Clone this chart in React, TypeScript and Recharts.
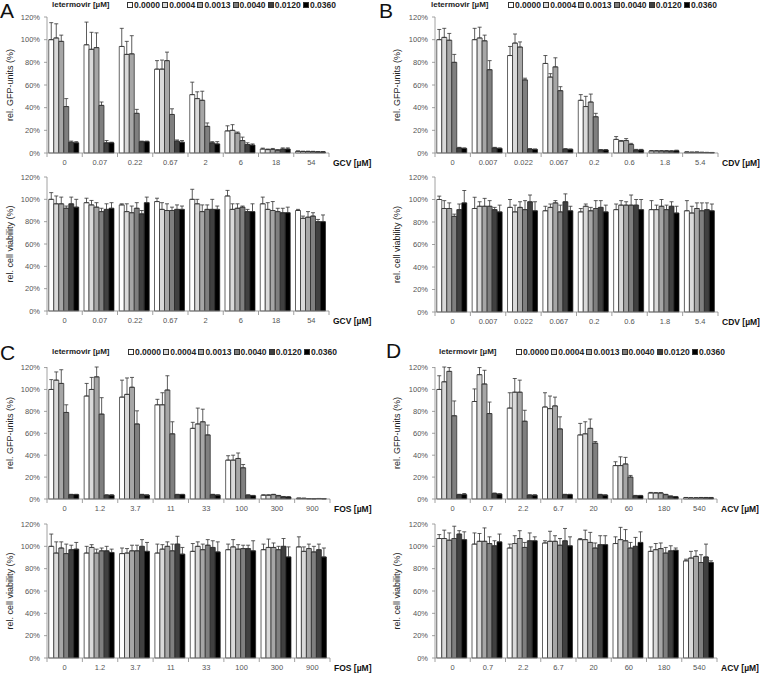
import { BarChart, Bar, XAxis, YAxis, ErrorBar } from "recharts";

const FONT = '"Liberation Sans", Arial, sans-serif';

// letermovir concentrations (µM) = the six series of every panel
const seriesNames = ["0.0000", "0.0004", "0.0013", "0.0040", "0.0120", "0.0360"];
const seriesColors = ["#ffffff", "#d9d9d9", "#a6a6a6", "#7f7f7f", "#404040", "#000000"];
const yTicks = [0, 20, 40, 60, 80, 100, 120];

// A - ganciclovir
const gcvDoses = ["0", "0.07", "0.22", "0.67", "2", "6", "18", "54"];
const gcvGfpMean = [
    [100, 101.5, 98.5, 41, 9.5, 9],
    [95.5, 91.5, 93, 42, 9, 9],
    [94, 87, 87.5, 35, 10, 10],
    [74, 74, 81.5, 34, 10.5, 9.5],
    [51.5, 48, 46.5, 23.5, 9, 8],
    [19.5, 20, 17.5, 11, 7.5, 7],
    [3.5, 3, 3.2, 2.5, 3.5, 3.5],
    [1.5, 1.3, 1.3, 1.2, 1, 1],
];
const gcvGfpErr = [
    [15, 12.5, 5.5, 7, 1, 1],
    [20, 15, 13, 3, 2, 0.5],
    [16, 11.5, 16, 3.5, 0.5, 0.5],
    [7.5, 8, 7.5, 5, 1, 1.5],
    [11, 6, 8, 3, 1, 2],
    [4.5, 5, 1, 3, 1.5, 1],
    [0.8, 0.5, 0.8, 0.5, 1, 1],
    [0.3, 0.3, 0.3, 0.3, 0.3, 0.3],
];
const gcvViaMean = [
    [100, 96, 96, 92, 96, 93],
    [97, 95, 93, 89, 91, 92],
    [95, 89, 88, 92, 87, 97],
    [98, 91, 90, 90, 91, 91],
    [100, 96, 89, 91, 91, 91],
    [103, 91, 92, 93, 89, 89],
    [96, 91, 90, 89, 88, 88],
    [90, 83, 84, 85, 80, 80],
];
const gcvViaErr = [
    [6, 7, 6, 2, 6, 7],
    [4, 4, 4, 3, 5, 5],
    [1, 7, 6, 5, 3, 5],
    [3, 6, 6, 3, 4, 3],
    [9, 4, 6, 4, 9, 3],
    [5, 5, 4, 1, 2, 7],
    [6, 6, 8, 3, 4, 5],
    [1, 2, 5, 3, 2, 6],
];

// B - cidofovir
const cdvDoses = ["0", "0.007", "0.022", "0.067", "0.2", "0.6", "1.8", "5.4"];
const cdvGfpMean = [
    [100, 102, 99.5, 80, 4.5, 4],
    [100, 101.5, 99, 73.5, 4.5, 4],
    [86, 97, 93.5, 64.5, 3.5, 3.2],
    [79, 67, 76, 55, 3.5, 3.2],
    [46.5, 41, 45, 32, 2.7, 2.7],
    [12, 10.5, 11, 7.5, 2.7, 2.7],
    [1.8, 1.8, 1.8, 1.8, 1.7, 2],
    [0.8, 0.6, 0.7, 0.5, 0.4, 0.3],
];
const cdvGfpErr = [
    [9, 8, 6, 7, 0.5, 0.5],
    [10, 9.5, 5, 8, 0.5, 0.5],
    [8, 8, 4.5, 1.5, 0.3, 0.3],
    [7, 3, 8, 3.5, 0.3, 0.3],
    [5, 9, 7, 3, 0.3, 0.3],
    [2.5, 0.5, 1.7, 1, 0.5, 0.5],
    [0.3, 0.3, 0.3, 0.3, 0.3, 0.5],
    [0.2, 0.2, 0.2, 0.2, 0.2, 0.2],
];
const cdvViaMean = [
    [100, 92, 92, 85, 91, 97],
    [92, 94, 94, 94, 91, 89],
    [93, 89, 93, 91, 98, 90],
    [90, 93, 97, 89, 98, 90],
    [89, 94, 90, 92, 93, 89],
    [91, 95, 95, 95, 95, 91],
    [91, 91, 94, 91, 94, 88],
    [90, 88, 92, 90, 91, 90],
];
const cdvViaErr = [
    [3, 7, 5, 2, 5, 11],
    [10, 4, 7, 5, 2, 6],
    [7, 6, 5, 8, 6, 8],
    [4, 3, 2, 6, 7, 4],
    [3, 2, 3, 7, 6, 6],
    [5, 4, 3, 9, 5, 9],
    [8, 4, 6, 4, 4, 6],
    [9, 6, 5, 7, 6, 6],
];

// C - foscarnet
const fosDoses = ["0", "1.2", "3.7", "11", "33", "100", "300", "900"];
const fosGfpMean = [
    [100, 108.5, 105.5, 79, 4, 4],
    [94, 100, 111.5, 77.5, 3.5, 3.5],
    [93, 95.5, 102, 68.5, 4, 3.5],
    [86, 86, 99.5, 59.5, 4, 4],
    [64.5, 68.5, 70.5, 58.5, 4, 3.5],
    [35.5, 35.5, 37, 28.5, 3.5, 3],
    [3.5, 3.5, 4, 3, 2, 1.8],
    [0.7, 0.6, 0.3, 0.2, 0.4, 0.2],
];
const fosGfpErr = [
    [9, 7.5, 12.5, 7, 0.3, 0.3],
    [11.5, 11, 9, 15, 0.3, 0.3],
    [15.5, 15, 9, 12, 0.3, 0.3],
    [5, 11, 13, 11, 0.3, 0.3],
    [5.5, 14.5, 11.5, 9, 0.3, 0.3],
    [4, 4.5, 5, 3, 0.3, 0.3],
    [0.3, 0.3, 0.3, 0.3, 0.3, 0.3],
    [0.1, 0.1, 0.1, 0.1, 0.1, 0.1],
];
const fosViaMean = [
    [100, 94, 98.5, 93.5, 97, 97.5],
    [94, 99, 94, 96, 96, 94.5],
    [93.5, 94, 96, 96, 100, 95.5],
    [94, 97.5, 100, 96, 102, 93],
    [95.5, 100, 97, 101, 99, 95],
    [97, 99.5, 97.5, 98, 98, 96],
    [97, 99, 99, 97, 100, 90.5],
    [99.5, 95.5, 98, 95, 97, 90.5],
];
const fosViaErr = [
    [11, 10, 5.5, 8.5, 4, 6],
    [6, 2.5, 3.5, 2.5, 4, 3],
    [5, 4, 5, 5, 6, 8],
    [8, 4, 4, 6, 7, 6],
    [7, 4, 5, 5, 6, 9],
    [5, 6.5, 4, 3, 3, 9],
    [5, 7.5, 4, 3, 7, 9],
    [9, 4, 4, 5, 5, 8],
];

// D - aciclovir
const acvDoses = ["0", "0.7", "2.2", "6.7", "20", "60", "180", "540"];
const acvGfpMean = [
    [100, 107, 116.5, 76, 4, 4],
    [89, 113.5, 105, 78, 5, 4.5],
    [83, 97.5, 97.5, 71, 3.5, 3.5],
    [84, 82.5, 85, 64, 4, 4],
    [58.5, 59.5, 64.5, 51, 4, 3.5],
    [30.5, 30.5, 32, 20, 3, 3],
    [5.5, 5.5, 5.5, 4, 2.5, 2],
    [1.2, 1, 1, 1.2, 1.2, 1.2],
];
const acvGfpErr = [
    [12.5, 13.5, 3.5, 13.5, 0.3, 1],
    [11.5, 6.5, 12.5, 10.5, 0.5, 0.3],
    [14, 12.5, 11, 10, 0.3, 0.3],
    [13, 11.5, 8, 11, 0.3, 0.3],
    [10.5, 11, 8.5, 1.5, 0.3, 0.3],
    [3.5, 8, 6, 1.5, 0.3, 0.3],
    [0.5, 0.3, 0.3, 0.3, 0.3, 0.3],
    [0.2, 0.2, 0.2, 0.2, 0.2, 0.2],
];
const acvViaMean = [
    [107, 107, 105.5, 107, 111, 106],
    [102, 104.5, 104.5, 102.5, 100.5, 104],
    [98.5, 102.5, 107, 99, 105, 105],
    [103, 104.5, 104.5, 101, 105, 100.5],
    [106, 106, 103.5, 98.5, 101.5, 101.5],
    [102.5, 106, 105, 98.5, 100, 103.5],
    [95.5, 97, 98, 94, 96, 96.5],
    [87, 89.5, 91, 85.5, 90.5, 85.5],
];
const acvViaErr = [
    [3.5, 7.5, 6.5, 11, 3, 7],
    [10, 7, 12, 6, 4.5, 7],
    [3.5, 7, 7, 4.5, 7, 3.5],
    [2, 9, 5, 6, 11, 8],
    [1, 8.5, 9, 4.5, 8, 8],
    [6, 11, 10, 5, 8, 9.5],
    [4, 5.5, 5, 5, 4.5, 2],
    [1.5, 6, 5, 7, 11.5, 1.5],
];

// one row per dose, error bars only upwards ([down, up])
function buildRows(doses: string[], mean: number[][], err: number[][]) {
    return doses.map((dose, i) => {
        const row: any = { dose };
        seriesNames.forEach((_, s) => {
            row[`v${s}`] = mean[i][s];
            row[`e${s}`] = [0, err[i][s]];
        });
        return row;
    });
}

type ChartProps = {
    rows: any[];
    left: number;
    plotLeft: number;
    plotRight: number;
    plotTop: number;
    plotBottom: number;
    yLabel: string;
    yLabelX: number;
    xLabel: string;
};

function DoseChart({ rows, left, plotLeft, plotRight, plotTop, plotBottom, yLabel, yLabelX, xLabel }: ChartProps) {
    const width = 380;
    const top = plotTop - 17;
    const height = plotBottom - top + 20;
    const yAxisWidth = plotLeft - left;
    const band = (plotRight - plotLeft) / rows.length;

    // category label plus the Excel-style ticks between groups
    const renderTick = (props: any) => {
        const { x, y, payload, index } = props;
        return (
            <g>
                <line x1={x - band / 2} x2={x - band / 2} y1={y} y2={y + 4} stroke="#8a8a8a" strokeWidth={0.8} />
                {index === rows.length - 1 && (
                    <line x1={x + band / 2} x2={x + band / 2} y1={y} y2={y + 4} stroke="#8a8a8a" strokeWidth={0.8} />
                )}
                <text x={x} y={y + 12} textAnchor="middle" fontSize={7.5} fill="#555" fontFamily={FONT}>
                    {payload.value}
                </text>
            </g>
        );
    };

    return (
        <div style={{ position: "absolute", left, top, width, height }}>
            <BarChart
                width={width}
                height={height}
                data={rows}
                margin={{ top: 17, right: left + width - plotRight, bottom: 0, left: 0 }}
                barCategoryGap="5%"
                barGap={0}
            >
                <XAxis
                    dataKey="dose"
                    height={20}
                    interval={0}
                    tickLine={false}
                    tickSize={0}
                    tickMargin={0}
                    tick={renderTick}
                    axisLine={{ stroke: "#8a8a8a", strokeWidth: 0.8 }}
                    label={{
                        value: xLabel,
                        position: "right",
                        offset: 4,
                        style: { fontSize: 8.5, fontWeight: "bold", fill: "#111", fontFamily: FONT },
                    }}
                />
                <YAxis
                    width={yAxisWidth}
                    domain={[0, 120]}
                    ticks={yTicks}
                    tickFormatter={(v: number) => `${v}%`}
                    tickSize={3}
                    tickMargin={4}
                    tick={{ fontSize: 7.5, fill: "#555", fontFamily: FONT }}
                    axisLine={{ stroke: "#8a8a8a", strokeWidth: 0.8 }}
                    tickLine={{ stroke: "#8a8a8a", strokeWidth: 0.8 }}
                    label={{
                        value: yLabel,
                        angle: -90,
                        position: "insideLeft",
                        offset: yLabelX - left,
                        style: { textAnchor: "middle", fontSize: 9, fill: "#222", fontFamily: FONT },
                    }}
                />
                {seriesNames.map((name, s) => (
                    <Bar
                        key={name}
                        dataKey={`v${s}`}
                        name={name}
                        fill={seriesColors[s]}
                        stroke="#222"
                        strokeWidth={0.7}
                        isAnimationActive={false}
                    >
                        <ErrorBar dataKey={`e${s}`} width={2} stroke="#333" strokeWidth={0.8} direction="y" />
                    </Bar>
                ))}
            </BarChart>
        </div>
    );
}

function LegendRow({ x, itemsX, y }: { x: number; itemsX: number; y: number }) {
    return (
        <>
            <div style={{ position: "absolute", left: x, top: y - 5, fontSize: 8, lineHeight: "10px", fontWeight: "bold", color: "#222", whiteSpace: "nowrap" }}>
                letermovir [µM]
            </div>
            <div style={{ position: "absolute", left: itemsX, top: y - 5, display: "flex", fontSize: 8.5, lineHeight: "10px", fontWeight: "bold", color: "#222", whiteSpace: "nowrap" }}>
                {seriesNames.map((name, s) => (
                    <div key={name} style={{ width: 35.2, display: "flex", alignItems: "center" }}>
                        <span style={{ display: "inline-block", width: 4, height: 4, border: "0.8px solid #333", background: seriesColors[s], marginRight: 1 }} />
                        {name}
                    </div>
                ))}
            </div>
        </>
    );
}

type PanelProps = {
    letter: string;
    letterX: number;
    letterY: number;
    left: number;
    plotLeft: number;
    plotRight: number;
    gfpTop: number;
    gfpBottom: number;
    viaTop: number;
    viaBottom: number;
    yLabelX: number;
    legendX: number;
    legendItemsX: number;
    legendY: number;
    doses: string[];
    drug: string;
    gfpMean: number[][];
    gfpErr: number[][];
    viaMean: number[][];
    viaErr: number[][];
};

function Panel(p: PanelProps) {
    const xLabel = `${p.drug} [µM]`;
    return (
        <>
            <div style={{ position: "absolute", left: p.letterX, top: p.letterY, fontSize: 21, lineHeight: "21px", color: "#111" }}>
                {p.letter}
            </div>
            <LegendRow x={p.legendX} itemsX={p.legendItemsX} y={p.legendY} />
            <DoseChart
                rows={buildRows(p.doses, p.gfpMean, p.gfpErr)}
                left={p.left}
                plotLeft={p.plotLeft}
                plotRight={p.plotRight}
                plotTop={p.gfpTop}
                plotBottom={p.gfpBottom}
                yLabel="rel. GFP-units (%)"
                yLabelX={p.yLabelX}
                xLabel={xLabel}
            />
            <DoseChart
                rows={buildRows(p.doses, p.viaMean, p.viaErr)}
                left={p.left}
                plotLeft={p.plotLeft}
                plotRight={p.plotRight}
                plotTop={p.viaTop}
                plotBottom={p.viaBottom}
                yLabel="rel. cell viability (%)"
                yLabelX={p.yLabelX}
                xLabel={xLabel}
            />
        </>
    );
}

export default function App() {
    return (
        <div style={{ position: "absolute", left: 0, top: 0, width: 760, height: 674, background: "#fff", fontFamily: FONT, overflow: "hidden" }}>
            <Panel
                letter="A" letterX={0} letterY={0} left={0} plotLeft={47} plotRight={329}
                gfpTop={17} gfpBottom={153} viaTop={177} viaBottom={311} yLabelX={10}
                legendX={52} legendItemsX={127} legendY={5}
                doses={gcvDoses} drug="GCV" gfpMean={gcvGfpMean} gfpErr={gcvGfpErr} viaMean={gcvViaMean} viaErr={gcvViaErr}
            />
            <Panel
                letter="B" letterX={379} letterY={0} left={380} plotLeft={435} plotRight={718}
                gfpTop={17} gfpBottom={153} viaTop={177} viaBottom={312} yLabelX={397}
                legendX={431} legendItemsX={508} legendY={5}
                doses={cdvDoses} drug="CDV" gfpMean={cdvGfpMean} gfpErr={cdvGfpErr} viaMean={cdvViaMean} viaErr={cdvViaErr}
            />
            <Panel
                letter="C" letterX={0} letterY={342} left={0} plotLeft={47} plotRight={330}
                gfpTop={367} gfpBottom={499} viaTop={524} viaBottom={658} yLabelX={10}
                legendX={52} legendItemsX={128} legendY={352}
                doses={fosDoses} drug="FOS" gfpMean={fosGfpMean} gfpErr={fosGfpErr} viaMean={fosViaMean} viaErr={fosViaErr}
            />
            <Panel
                letter="D" letterX={386} letterY={340} left={380} plotLeft={435} plotRight={717}
                gfpTop={367} gfpBottom={499} viaTop={524} viaBottom={658} yLabelX={397}
                legendX={439} legendItemsX={516} legendY={352}
                doses={acvDoses} drug="ACV" gfpMean={acvGfpMean} gfpErr={acvGfpErr} viaMean={acvViaMean} viaErr={acvViaErr}
            />
        </div>
    );
}
